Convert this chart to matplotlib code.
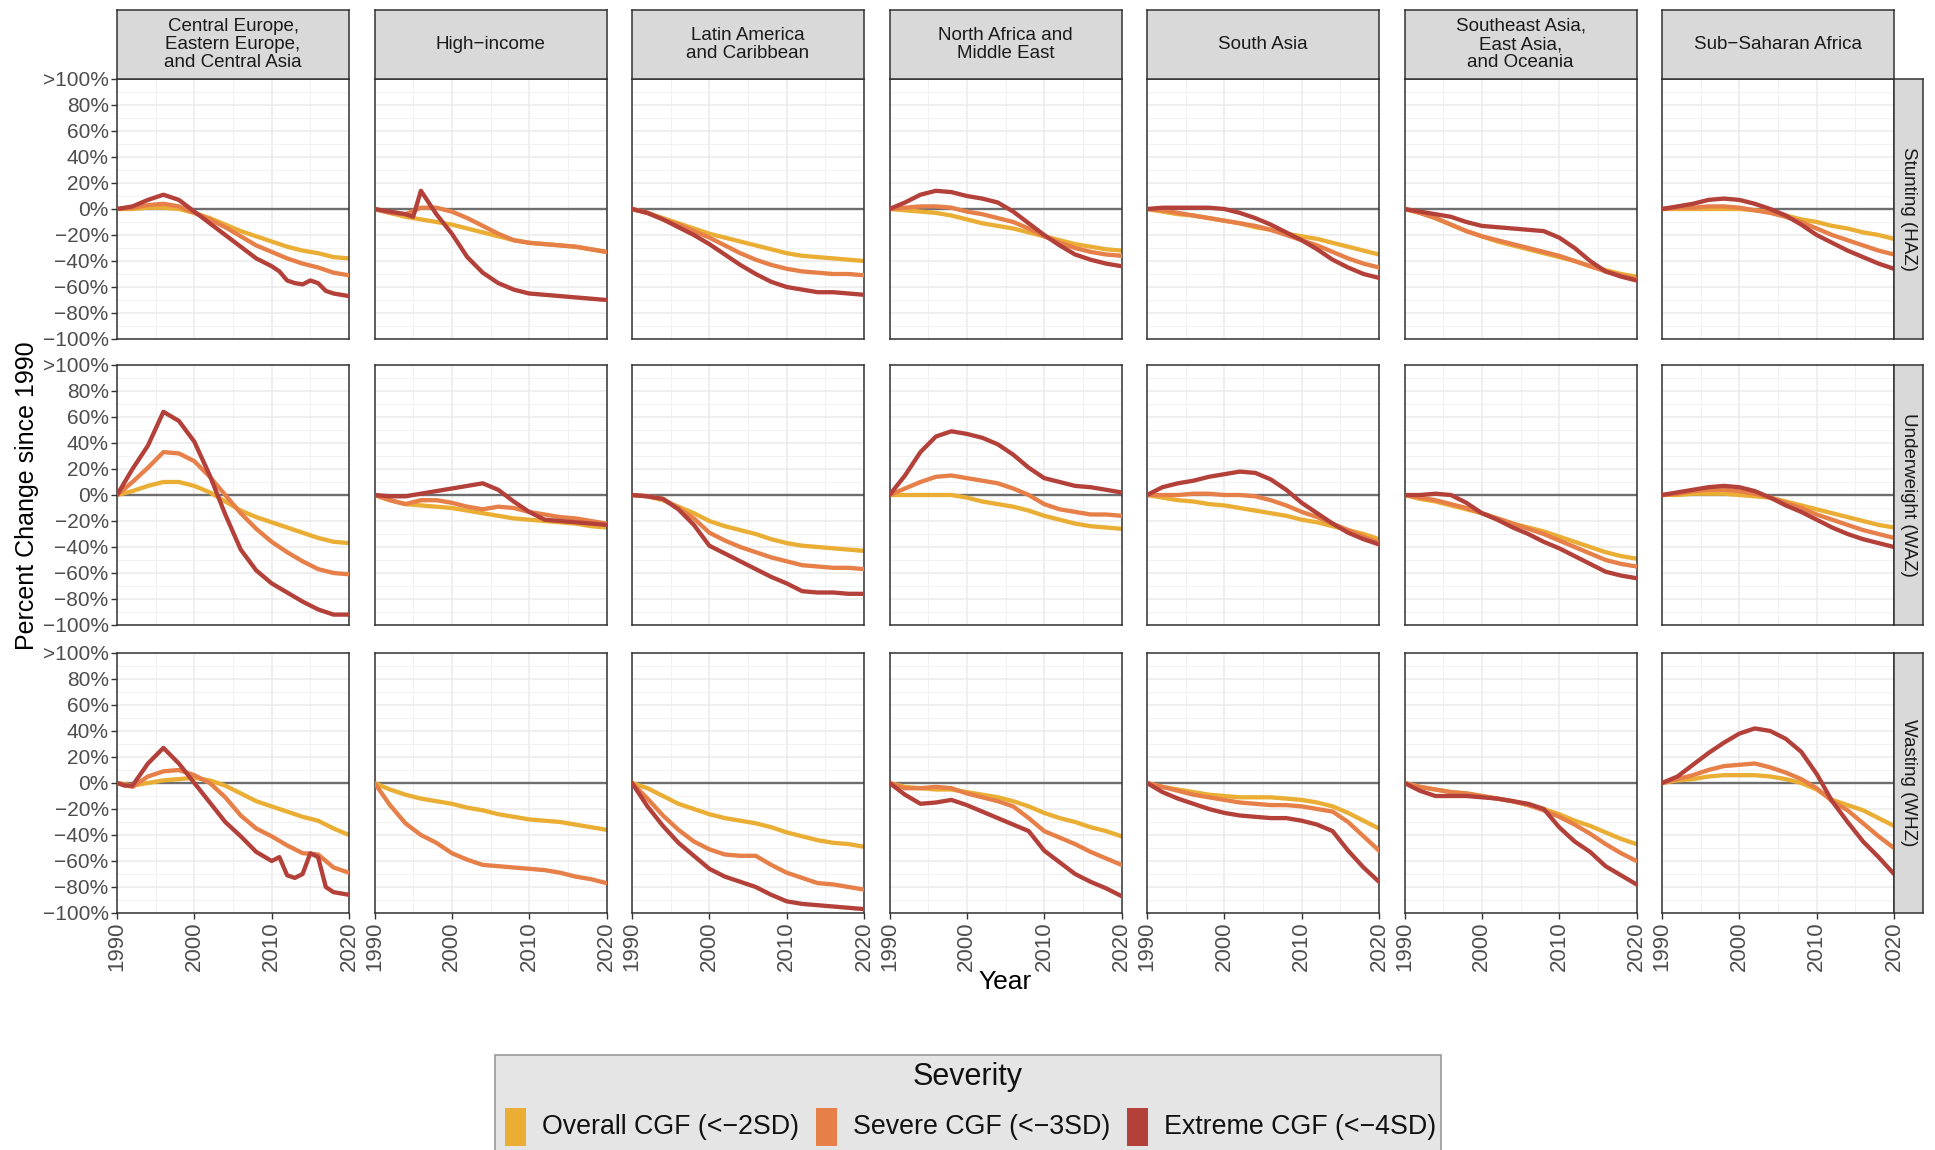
import matplotlib
matplotlib.use("Agg")
import matplotlib.pyplot as plt
from matplotlib.patches import Rectangle
from matplotlib.ticker import FixedLocator

plt.rcParams['font.family'] = ['Liberation Sans', 'DejaVu Sans']

# ---------------- data ----------------
YEARS = list(range(1990, 2021, 2))

REGIONS = [
    "Central Europe,\nEastern Europe,\nand Central Asia",
    "High\u2212income",
    "Latin America\nand Caribbean",
    "North Africa and\nMiddle East",
    "South Asia",
    "Southeast Asia,\nEast Asia,\nand Oceania",
    "Sub\u2212Saharan Africa",
]
MEASURES = ["Stunting (HAZ)", "Underweight (WAZ)", "Wasting (WHZ)"]
SEVERITIES = ["Overall CGF (<\u22122SD)", "Severe CGF (<\u22123SD)", "Extreme CGF (<\u22124SD)"]
COLORS = ["#EBAE35", "#E67F48", "#B3413A"]
Y_TICKS = [-100, -80, -60, -40, -20, 0, 20, 40, 60, 80, 100]
Y_LABELS = ["\u2212100%", "\u221280%", "\u221260%", "\u221240%", "\u221220%", "0%",
            "20%", "40%", "60%", "80%", ">100%"]
X_TICKS = [1990, 2000, 2010, 2020]

# irregular-year series (sharp features)
HI_STUNT_EXT_YEARS = [1990, 1992, 1994, 1995, 1996, 1997, 1998, 2000, 2002, 2004, 2006,
                      2008, 2010, 2012, 2014, 2016, 2018, 2020]
HI_STUNT_EXT = [0, -2, -4, -6, 14, 5, -4, -19, -37, -49, -57, -62, -65, -66, -67, -68, -69, -70]

CE_STUNT_EXT_YEARS = [1990, 1992, 1994, 1996, 1998, 2000, 2002, 2004, 2006, 2008, 2010,
                      2011, 2012, 2013, 2014, 2015, 2016, 2017, 2018, 2020]
CE_STUNT_EXT = [0, 2, 7, 11, 7, -2, -11, -20, -29, -38, -44, -48, -55, -57, -58, -55, -57,
                -63, -65, -67]

CE_WAST_EXT_YEARS = [1990, 1991, 1992, 1994, 1996, 1998, 2000, 2002, 2004, 2006, 2008, 2010,
                     2011, 2012, 2013, 2014, 2015, 2016, 2017, 2018, 2020]
CE_WAST_EXT = [0, -2, -2, 15, 27, 15, 0, -15, -30, -41, -53, -60, -57, -71, -73, -70, -54,
               -57, -80, -84, -86]

# each region: [overall, severe, extreme]
STUNTING = {
    REGIONS[0]: [[0, 0, 1, 1, 0, -3, -7, -12, -17, -21, -25, -29, -32, -34, -37, -38],
                 [0, 1, 3, 4, 2, -3, -8, -14, -21, -28, -33, -38, -42, -45, -49, -51],
                 (CE_STUNT_EXT_YEARS, CE_STUNT_EXT)],
    REGIONS[1]: [[0, -3, -6, -8, -10, -12, -15, -18, -21, -24, -26, -27, -28, -29, -31, -33],
                 [0, -3, -4, 1, 1, -2, -7, -13, -19, -24, -26, -27, -28, -29, -31, -33],
                 (HI_STUNT_EXT_YEARS, HI_STUNT_EXT)],
    REGIONS[2]: [[0, -3, -7, -11, -15, -19, -22, -25, -28, -31, -34, -36, -37, -38, -39, -40],
                 [0, -3, -8, -12, -17, -22, -28, -34, -39, -43, -46, -48, -49, -50, -50, -51],
                 [0, -3, -8, -14, -20, -27, -35, -43, -50, -56, -60, -62, -64, -64, -65, -66]],
    REGIONS[3]: [[0, -1, -2, -3, -5, -8, -11, -13, -15, -18, -21, -24, -27, -29, -31, -32],
                 [0, 1, 2, 2, 1, -2, -4, -7, -10, -15, -21, -26, -30, -33, -35, -36],
                 [0, 5, 11, 14, 13, 10, 8, 5, -2, -11, -20, -28, -35, -39, -42, -44]],
    REGIONS[4]: [[0, -2, -4, -5, -7, -9, -11, -14, -16, -19, -21, -23, -26, -29, -32, -35],
                 [0, -1, -3, -5, -7, -9, -11, -13, -16, -20, -24, -28, -33, -38, -42, -45],
                 [0, 1, 1, 1, 1, 0, -3, -7, -12, -18, -24, -31, -39, -45, -50, -53]],
    REGIONS[5]: [[0, -3, -7, -12, -17, -21, -25, -28, -31, -34, -37, -40, -44, -47, -50, -52],
                 [0, -3, -7, -12, -17, -21, -24, -27, -30, -33, -36, -40, -44, -48, -51, -54],
                 [0, -2, -4, -6, -10, -13, -14, -15, -16, -17, -22, -30, -40, -48, -52, -55]],
    REGIONS[6]: [[0, 0, 0, 0, 0, 0, -1, -2, -5, -8, -10, -13, -15, -18, -20, -23],
                 [0, 1, 1, 2, 2, 1, -1, -3, -6, -10, -15, -20, -24, -28, -32, -35],
                 [0, 2, 4, 7, 8, 7, 4, 0, -5, -12, -20, -26, -32, -37, -42, -46]],
}

UNDERWEIGHT = {
    REGIONS[0]: [[0, 3, 7, 10, 10, 7, 2, -5, -12, -17, -21, -25, -29, -33, -36, -37],
                 [0, 10, 21, 33, 32, 26, 14, 0, -14, -26, -36, -44, -51, -57, -60, -61],
                 [0, 20, 38, 64, 57, 41, 15, -15, -42, -58, -68, -75, -82, -88, -92, -92]],
    REGIONS[1]: [[0, -4, -7, -8, -9, -10, -12, -14, -16, -18, -19, -20, -21, -22, -24, -25],
                 [0, -4, -7, -4, -4, -6, -9, -11, -9, -10, -13, -15, -17, -18, -20, -22],
                 [0, -1, -1, 1, 3, 5, 7, 9, 4, -5, -13, -19, -20, -21, -22, -23]],
    REGIONS[2]: [[0, -1, -4, -9, -14, -20, -24, -27, -30, -34, -37, -39, -40, -41, -42, -43],
                 [0, -1, -3, -10, -18, -29, -35, -40, -44, -48, -51, -54, -55, -56, -56, -57],
                 [0, -1, -3, -11, -23, -39, -45, -51, -57, -63, -68, -74, -75, -75, -76, -76]],
    REGIONS[3]: [[0, 0, 0, 0, 0, -2, -5, -7, -9, -12, -16, -19, -22, -24, -25, -26],
                 [0, 5, 10, 14, 15, 13, 11, 9, 5, 0, -7, -11, -13, -15, -15, -16],
                 [0, 15, 33, 45, 49, 47, 44, 39, 31, 21, 13, 10, 7, 6, 4, 2]],
    REGIONS[4]: [[0, -2, -4, -5, -7, -8, -10, -12, -14, -16, -19, -21, -24, -27, -30, -34],
                 [0, 0, 0, 1, 1, 0, 0, -1, -4, -8, -13, -17, -22, -27, -32, -37],
                 [0, 6, 9, 11, 14, 16, 18, 17, 12, 4, -6, -14, -22, -29, -34, -38]],
    REGIONS[5]: [[0, -3, -5, -8, -11, -14, -18, -22, -25, -28, -32, -36, -40, -44, -47, -49],
                 [0, -2, -4, -7, -10, -14, -18, -22, -26, -30, -35, -40, -45, -50, -53, -55],
                 [0, 0, 1, 0, -6, -14, -19, -25, -30, -36, -41, -47, -53, -59, -62, -64]],
    REGIONS[6]: [[0, 0, 1, 1, 1, 0, -1, -2, -5, -8, -11, -14, -17, -20, -23, -25],
                 [0, 1, 3, 4, 4, 3, 1, -2, -6, -10, -15, -19, -23, -27, -30, -33],
                 [0, 2, 4, 6, 7, 6, 3, -2, -8, -13, -19, -25, -30, -34, -37, -40]],
}

WASTING = {
    REGIONS[0]: [[0, -2, 0, 2, 3, 4, 2, -2, -8, -14, -18, -22, -26, -29, -35, -40],
                 [0, -3, 5, 9, 10, 6, 0, -11, -25, -35, -41, -48, -54, -55, -65, -69],
                 (CE_WAST_EXT_YEARS, CE_WAST_EXT)],
    REGIONS[1]: [[0, -5, -9, -12, -14, -16, -19, -21, -24, -26, -28, -29, -30, -32, -34, -36],
                 [0, -17, -31, -40, -46, -54, -59, -63, -64, -65, -66, -67, -69, -72, -74, -77],
                 None],
    REGIONS[2]: [[0, -4, -10, -16, -20, -24, -27, -29, -31, -34, -38, -41, -44, -46, -47, -49],
                 [0, -12, -25, -36, -45, -51, -55, -56, -56, -63, -69, -73, -77, -78, -80, -82],
                 [0, -18, -33, -46, -56, -66, -72, -76, -80, -86, -91, -93, -94, -95, -96, -97]],
    REGIONS[3]: [[0, -3, -4, -5, -5, -7, -9, -11, -14, -18, -23, -27, -30, -34, -37, -41],
                 [0, -4, -4, -3, -4, -8, -11, -14, -18, -27, -37, -42, -47, -53, -58, -63],
                 [0, -9, -16, -15, -13, -17, -22, -27, -32, -37, -52, -61, -70, -76, -81, -87]],
    REGIONS[4]: [[0, -3, -5, -7, -9, -10, -11, -11, -11, -12, -13, -15, -18, -23, -29, -35],
                 [0, -3, -6, -9, -11, -13, -15, -16, -17, -17, -18, -20, -22, -30, -41, -52],
                 [0, -7, -12, -16, -20, -23, -25, -26, -27, -27, -29, -32, -37, -52, -65, -76]],
    REGIONS[5]: [[0, -3, -5, -7, -8, -10, -12, -14, -17, -20, -24, -29, -33, -38, -43, -47],
                 [0, -3, -5, -7, -8, -10, -12, -14, -17, -21, -26, -32, -39, -47, -54, -60],
                 [0, -6, -10, -10, -10, -11, -12, -14, -16, -20, -34, -45, -53, -64, -71, -78]],
    REGIONS[6]: [[0, 2, 3, 5, 6, 6, 6, 5, 3, 0, -5, -13, -17, -21, -27, -33],
                 [0, 3, 6, 10, 13, 14, 15, 12, 8, 3, -4, -14, -21, -31, -41, -50],
                 [0, 5, 14, 23, 31, 38, 42, 40, 34, 24, 7, -14, -30, -45, -57, -70]],
}
DATA = [STUNTING, UNDERWEIGHT, WASTING]

# ---------------- layout ----------------
W, H = 1935, 1150
fig = plt.figure(figsize=(W / 100, H / 100), dpi=100)


def rect(x0, y0, w, h):
    return [x0 / W, 1 - (y0 + h) / H, w / W, h / H]


COL_LEFT0, COL_PITCH, PANEL_W = 117, 257.5, 232
ROW_TOP = [79, 365, 653]
PANEL_H = 260
STRIP_TOP, STRIP_H = 10, 69
RSTRIP_W = 29
FRAME = "#333333"
STRIP_FILL = "#D9D9D9"

for r, measure in enumerate(MEASURES):
    for c, region in enumerate(REGIONS):
        x0 = COL_LEFT0 + c * COL_PITCH
        ax = fig.add_axes(rect(x0, ROW_TOP[r], PANEL_W, PANEL_H))
        ax.set_xlim(1990, 2020)
        ax.set_ylim(-100, 100)
        ax.xaxis.set_major_locator(FixedLocator(X_TICKS))
        ax.xaxis.set_minor_locator(FixedLocator([1995, 2005, 2015]))
        ax.yaxis.set_major_locator(FixedLocator(Y_TICKS))
        ax.yaxis.set_minor_locator(FixedLocator(list(range(-90, 100, 20))))
        ax.grid(which="major", color="#EBEBEB", lw=1.1, zorder=0)
        ax.grid(which="minor", color="#F2F2F2", lw=0.8, zorder=0)
        ax.set_axisbelow(True)
        for s in ax.spines.values():
            s.set_color(FRAME)
            s.set_linewidth(1.1)
        ax.axhline(0, color="#6E6E6E", lw=1.7, zorder=1.5)

        series = DATA[r][region]
        for k, s in enumerate(series):
            if s is None:
                continue
            if isinstance(s, tuple):
                xs, ys = s
            else:
                xs, ys = YEARS, s
            ys = [min(v, 100) for v in ys]
            ax.plot(xs, ys, color=COLORS[k], lw=3.1, solid_capstyle="round",
                    solid_joinstyle="round", zorder=2 + k, clip_on=True)

        ax.tick_params(which="minor", length=0)
        ax.tick_params(which="major", color=FRAME, width=1.0, length=4,
                       labelsize=15, labelcolor="#4D4D4D", pad=2)
        if c == 0:
            ax.set_yticklabels(Y_LABELS)
        else:
            ax.tick_params(axis="y", length=0, labelleft=False)
        if r == 2:
            ax.set_xticklabels([str(v) for v in X_TICKS], rotation=90, va="top")
            ax.tick_params(axis="x", labelsize=16)
        else:
            ax.tick_params(axis="x", length=0, labelbottom=False)

        # top strips
        if r == 0:
            sax = fig.add_axes(rect(x0, STRIP_TOP, PANEL_W, STRIP_H))
            sax.set_facecolor(STRIP_FILL)
            sax.set_xticks([])
            sax.set_yticks([])
            for s in sax.spines.values():
                s.set_color(FRAME)
                s.set_linewidth(1.1)
            sax.text(0.5, 0.5, region, ha="center", va="center", fontsize=13.5,
                     color="#1A1A1A", linespacing=1.08, transform=sax.transAxes)
        # right strips
        if c == len(REGIONS) - 1:
            rax = fig.add_axes(rect(x0 + PANEL_W, ROW_TOP[r], RSTRIP_W, PANEL_H))
            rax.set_facecolor(STRIP_FILL)
            rax.set_xticks([])
            rax.set_yticks([])
            for s in rax.spines.values():
                s.set_color(FRAME)
                s.set_linewidth(1.1)
            rax.text(0.5, 0.5, measure, ha="center", va="center", rotation=270,
                     fontsize=13.5, color="#1A1A1A", transform=rax.transAxes)

# axis titles
fig.text(27 / W, 1 - 496 / H, "Percent Change since 1990", rotation=90,
         ha="center", va="center", fontsize=18, color="black")
fig.text(1005 / W, 1 - 982 / H, "Year", ha="center", va="center",
         fontsize=19, color="black")

# legend (manual)
LEG_X0, LEG_Y0, LEG_X1, LEG_Y1 = 495, 1055, 1441, 1160
fig.patches.append(Rectangle((LEG_X0 / W, 1 - LEG_Y1 / H), (LEG_X1 - LEG_X0) / W,
                             (LEG_Y1 - LEG_Y0) / H, transform=fig.transFigure,
                             facecolor="#E5E5E5", edgecolor="#9A9A9A", lw=1.2,
                             zorder=0))
fig.text(968 / W, 1 - 1077 / H, "Severity", ha="center", va="center",
         fontsize=22, color="#111111")
KEY_X = [505, 816, 1127]
for k, lab in enumerate(SEVERITIES):
    fig.patches.append(Rectangle((KEY_X[k] / W, 1 - 1146 / H), 21 / W, 38 / H,
                                 transform=fig.transFigure, facecolor=COLORS[k],
                                 edgecolor="none", zorder=1))
    fig.text((KEY_X[k] + 37) / W, 1 - 1127 / H, lab, ha="left", va="center",
             fontsize=19.3, color="#111111")

fig.savefig("out.png", dpi=100, facecolor="white")
